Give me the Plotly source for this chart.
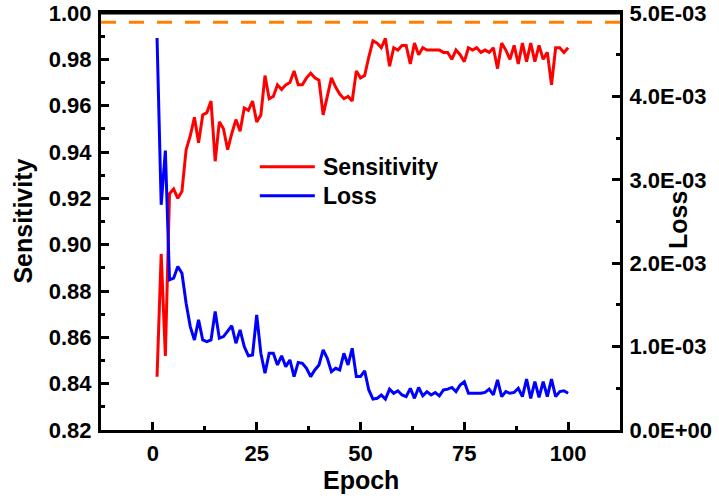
import plotly.graph_objects as go

# Training epochs
epochs = list(range(1, 101))

# Sensitivity per epoch (left axis)
sensitivity = [
    0.843, 0.896, 0.852, 0.922, 0.924, 0.920, 0.923, 0.941, 0.947, 0.955,
    0.944, 0.956, 0.957, 0.962, 0.936, 0.953, 0.950, 0.941, 0.948, 0.954,
    0.949, 0.959, 0.958, 0.962, 0.953, 0.956, 0.973, 0.963, 0.964, 0.969,
    0.967, 0.969, 0.970, 0.975, 0.969, 0.969, 0.972, 0.974, 0.972, 0.971,
    0.956, 0.964, 0.972, 0.968, 0.965, 0.963, 0.964, 0.962, 0.975, 0.972,
    0.973, 0.981, 0.988, 0.987, 0.985, 0.989, 0.977, 0.985, 0.984, 0.986,
    0.986, 0.978, 0.987, 0.982, 0.985, 0.984, 0.984, 0.984, 0.984, 0.983,
    0.983, 0.980, 0.984, 0.982, 0.979, 0.985, 0.984, 0.985, 0.983, 0.984,
    0.983, 0.985, 0.976, 0.987, 0.984, 0.980, 0.986, 0.978, 0.987, 0.979,
    0.987, 0.979, 0.986, 0.980, 0.983, 0.969, 0.985, 0.985, 0.983, 0.985,
]

# Training loss per epoch, in units of 1e-3 (right axis)
loss_e3 = [
    4.70, 2.70, 3.35, 1.80, 1.82, 1.96, 1.88, 1.52, 1.24, 1.08,
    1.32, 1.08, 1.06, 1.08, 1.42, 1.10, 1.12, 1.18, 1.25, 1.04,
    1.20, 1.00, 0.89, 0.90, 1.38, 0.92, 0.68, 0.92, 0.92, 0.78,
    0.89, 0.76, 0.84, 0.64, 0.81, 0.80, 0.74, 0.64, 0.72, 0.78,
    0.96, 0.86, 0.70, 0.74, 0.72, 0.92, 0.78, 0.98, 0.64, 0.64,
    0.71, 0.48, 0.37, 0.38, 0.42, 0.37, 0.49, 0.44, 0.47, 0.42,
    0.40, 0.50, 0.38, 0.51, 0.41, 0.46, 0.42, 0.45, 0.41, 0.48,
    0.49, 0.51, 0.46, 0.54, 0.58, 0.44, 0.44, 0.44, 0.44, 0.45,
    0.49, 0.42, 0.60, 0.40, 0.46, 0.44, 0.45, 0.50, 0.40, 0.61,
    0.38, 0.58, 0.39, 0.58, 0.40, 0.61, 0.40, 0.46, 0.47, 0.44,
]
loss = [v * 1e-3 for v in loss_e3]

# Reference level for sensitivity
target_level = 0.996

x_ticks = [0, 25, 50, 75, 100]
y_ticks = [0.82, 0.84, 0.86, 0.88, 0.90, 0.92, 0.94, 0.96, 0.98, 1.00]
y2_ticks = [0.0, 1e-3, 2e-3, 3e-3, 4e-3, 5e-3]
y2_labels = ["0.0E+00", "1.0E-03", "2.0E-03", "3.0E-03", "4.0E-03", "5.0E-03"]

FONT = "Liberation Sans, Arial, sans-serif"
RED = "#FF0000"
BLUE = "#0000FF"
ORANGE = "#FF8000"

fig = go.Figure()
fig.add_trace(go.Scatter(
    x=epochs, y=sensitivity, name="Sensitivity", mode="lines",
    line=dict(color=RED, width=3), yaxis="y", showlegend=False,
))
fig.add_trace(go.Scatter(
    x=epochs, y=loss, name="Loss", mode="lines",
    line=dict(color=BLUE, width=3), yaxis="y2", showlegend=False,
))

# dashed reference line across the full width
fig.add_shape(type="line", xref="paper", yref="y", x0=0, x1=1,
              y0=target_level, y1=target_level,
              line=dict(color=ORANGE, width=3, dash="15px,13px"))

# top edge of the frame
fig.add_shape(type="line", xref="paper", yref="paper", x0=0, x1=1, y0=1, y1=1,
              line=dict(color="black", width=3))

tickfont = dict(family=FONT, size=22, color="black", weight="bold")
titlefont = dict(family=FONT, size=25, color="black", weight="bold")

fig.update_layout(
    template="none",
    width=719, height=499,
    margin=dict(l=101, r=99, t=13, b=69, autoexpand=False),
    paper_bgcolor="white", plot_bgcolor="white",
    xaxis=dict(
        range=[-12.5, 112.5], tickmode="array", tickvals=x_ticks,
        ticks="inside", ticklen=8, tickwidth=2.5, tickcolor="black",
        minor=dict(ticks="inside", ticklen=4, tickwidth=2.5, tickcolor="black",
                   tickmode="array", tickvals=[-12.5, 12.5, 37.5, 62.5, 87.5, 112.5]),
        showline=True, linewidth=3, linecolor="black", mirror=True,
        showgrid=False, zeroline=False, tickfont=tickfont,
        automargin=False, ticklabelstandoff=2,
    ),
    yaxis=dict(
        range=[0.82, 1.00], tickmode="array", tickvals=y_ticks,
        ticktext=[f"{v:.2f}" for v in y_ticks],
        ticks="inside", ticklen=8, tickwidth=2.5, tickcolor="black",
        minor=dict(ticks="inside", ticklen=4, tickwidth=2.5, tickcolor="black",
                   dtick=0.01, tick0=0.81),
        showline=True, linewidth=3, linecolor="black",
        showgrid=False, zeroline=False, tickfont=tickfont,
        ticklabelstandoff=2, automargin=False,
    ),
    yaxis2=dict(
        range=[0, 5e-3], overlaying="y", side="right",
        tickmode="array", tickvals=y2_ticks, ticktext=y2_labels,
        ticks="inside", ticklen=8, tickwidth=2.5, tickcolor="black",
        minor=dict(ticks="inside", ticklen=4, tickwidth=2.5, tickcolor="black",
                   dtick=0.5e-3, tick0=0),
        showline=True, linewidth=3, linecolor="black",
        showgrid=False, zeroline=False, tickfont=tickfont,
        ticklabelstandoff=2, automargin=False,
    ),
)

# axis titles
fig.add_annotation(text="Epoch", xref="paper", yref="paper", x=0.5, y=-0.12,
                   xanchor="center", yanchor="middle", showarrow=False, font=titlefont)
fig.add_annotation(text="Sensitivity", xref="paper", yref="paper", x=-0.152, y=0.5,
                   xanchor="center", yanchor="middle", textangle=-90,
                   showarrow=False, font=titlefont)
fig.add_annotation(text="Loss", xref="paper", yref="paper", x=1.112, y=0.504,
                   xanchor="center", yanchor="middle", textangle=-90,
                   showarrow=False, font=titlefont)

# legend entries: coloured line sample followed by label
legend_items = [("Sensitivity", RED, 0.631), ("Loss", BLUE, 0.562)]
for label, color, ly in legend_items:
    fig.add_shape(type="line", xref="paper", yref="paper", x0=0.306, x1=0.412,
                  y0=ly, y1=ly, line=dict(color=color, width=3))
    fig.add_annotation(text=label, xref="paper", yref="paper", x=0.424, y=ly,
                       xanchor="left", yanchor="middle", showarrow=False,
                       font=dict(family=FONT, size=23, color="black", weight="bold"))

fig.write_html("out.html")
